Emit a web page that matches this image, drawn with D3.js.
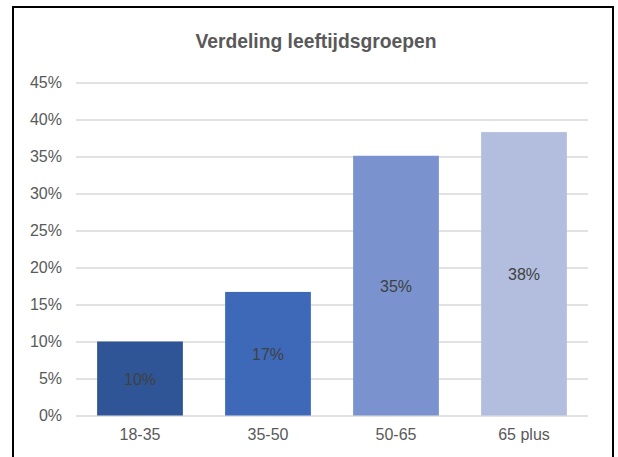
<!DOCTYPE html>
<html><head><meta charset="utf-8">
<script src="https://cdn.jsdelivr.net/npm/d3@7"></script>
<style>body{margin:0;background:#fff}svg{display:block}</style>
</head><body>
<script>
const categories = ["18-35", "35-50", "50-65", "65 plus"];
const values = [0.10, 0.167, 0.351, 0.383];
const labels = ["10%", "17%", "35%", "38%"];
const colors = ["#2F5597", "#3D69B8", "#7A93CF", "#B3BEDF"];
const yTicks = [0, 0.05, 0.10, 0.15, 0.20, 0.25, 0.30, 0.35, 0.40, 0.45];
const title = "Verdeling leeftijdsgroepen";

const W = 618, H = 457;
const svg = d3.select("body").append("svg").attr("width", W).attr("height", H);
svg.append("rect").attr("width", W).attr("height", H).attr("fill", "#fff");
svg.append("rect").attr("x", 13).attr("y", 7).attr("width", 600).attr("height", 460)
  .attr("fill", "none").attr("stroke", "#000").attr("stroke-width", 2);

const font = "'Liberation Sans', Arial, sans-serif";
const x = d3.scaleBand().domain(categories).range([76, 588]).paddingInner(0.33).paddingOuter(0.165);
const y = d3.scaleLinear().domain([0, 0.45]).range([415.5, 82.5]);

svg.append("text").attr("x", 316).attr("y", 48).attr("text-anchor", "middle")
  .attr("font-family", font).attr("font-size", 19.3).attr("font-weight", "bold")
  .attr("fill", "#595959").text(title);

const yAxis = svg.append("g").attr("transform", "translate(76,0)")
  .call(d3.axisLeft(y).tickValues(yTicks).tickFormat(d3.format(".0%")).tickSize(-512).tickPadding(14));
yAxis.select(".domain").remove();
yAxis.selectAll(".tick line").attr("stroke", "#D9D9D9").attr("stroke-width", 1.3);
yAxis.selectAll(".tick text").attr("font-family", font).attr("font-size", 16).attr("fill", "#595959");

svg.append("g").selectAll("rect").data(values).join("rect")
  .attr("x", (d, i) => x(categories[i])).attr("width", x.bandwidth())
  .attr("y", d => y(d)).attr("height", d => y(0) - y(d))
  .attr("fill", (d, i) => colors[i]);

const xAxis = svg.append("g").attr("transform", "translate(0,415.5)")
  .call(d3.axisBottom(x).tickSize(0).tickPadding(13));
xAxis.select(".domain").remove();
xAxis.selectAll(".tick text").attr("font-family", font).attr("font-size", 16).attr("fill", "#595959");

svg.append("g").selectAll("text").data(values).join("text")
  .attr("x", (d, i) => x(categories[i]) + x.bandwidth() / 2)
  .attr("y", d => (y(d) + y(0)) / 2 + 6.5)
  .attr("text-anchor", "middle").attr("font-family", font).attr("font-size", 16)
  .attr("fill", "#404040").text((d, i) => labels[i]);
</script>
</body></html>
